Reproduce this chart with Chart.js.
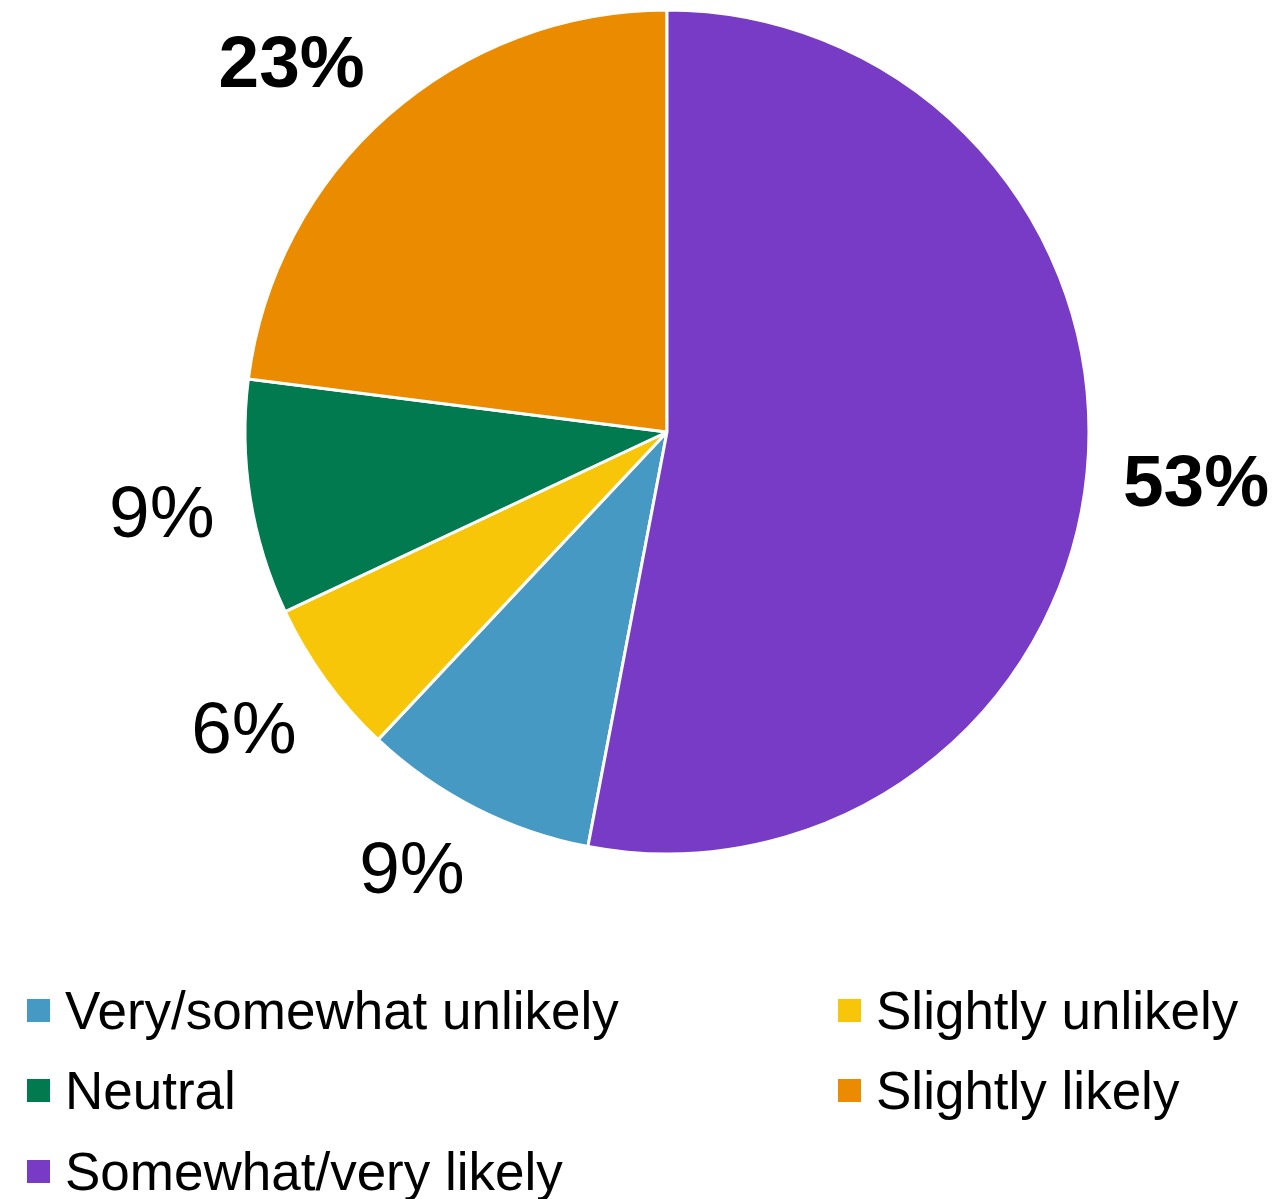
<!DOCTYPE html>
<html>
<head>
<meta charset="utf-8">
<script src="https://cdn.jsdelivr.net/npm/chart.js@4.4.0/dist/chart.umd.min.js"></script>
<style>
    html, body { margin: 0; padding: 0; background: #fff; }
    #wrap { position: relative; width: 1280px; height: 1199px; overflow: hidden; }
    #legend {
        position: absolute;
        left: 27px;
        top: 970px;
        display: grid;
        grid-template-columns: 811px auto;
        grid-auto-rows: 80.5px;
        font-family: "Liberation Sans", Arial, sans-serif;
        font-size: 53px;
        color: #000;
    }
    .legend-item { display: flex; align-items: center; white-space: nowrap; }
    .legend-box { width: 23px; height: 23px; margin-right: 15px; flex: none; }
</style>
</head>
<body>
<div id="wrap">
    <canvas id="pieChart" width="1280" height="1199"></canvas>
    <div id="legend"></div>
</div>
<script>
const labels = ["Very/somewhat unlikely", "Slightly unlikely", "Neutral", "Slightly likely", "Somewhat/very likely"];
const values = [9, 6, 9, 23, 53];
const colors = ["#4599C3", "#F7C608", "#007A4E", "#EB8C00", "#783BC5"];
const boldLabels = [false, false, false, true, true];

// last slice starts at 12 o'clock, so turn the pie by its share
const total = values.reduce((a, b) => a + b, 0);
const startRotation = (values[values.length - 1] / total) * 360;

const clamp = (v) => Math.max(-1, Math.min(1, v));

// percent labels just outside each slice, box corner pinned to the mid-angle
const pieLabels = {
    id: "pieLabels",
    afterDatasetsDraw(chart) {
        const ctx = chart.ctx;
        const meta = chart.getDatasetMeta(0);
        meta.data.forEach((arc, i) => {
            const { x, y, startAngle, endAngle, outerRadius } = arc.getProps(
                ["x", "y", "startAngle", "endAngle", "outerRadius"], true);
            const mid = (startAngle + endAngle) / 2;
            const text = values[i] + "%";
            ctx.save();
            ctx.font = (boldLabels[i] ? "bold " : "") + "73px 'Liberation Sans', Arial, sans-serif";
            ctx.fillStyle = "#000";
            ctx.textAlign = "left";
            ctx.textBaseline = "alphabetic";
            const m = ctx.measureText(text);
            const w = m.actualBoundingBoxLeft + m.actualBoundingBoxRight;
            const h = m.actualBoundingBoxAscent;
            const d = outerRadius + 38;
            const ax = x + Math.cos(mid) * d;
            const ay = y + Math.sin(mid) * d;
            const cx = ax + clamp(2 * Math.cos(mid)) * w / 2;
            const cy = ay + clamp(2 * Math.sin(mid)) * h / 2;
            ctx.fillText(text, cx - w / 2 + m.actualBoundingBoxLeft, cy + h / 2);
            ctx.restore();
        });
    },
};

const ctx = document.getElementById("pieChart").getContext("2d");
const myChart = new Chart(ctx, {
    type: "pie",
    data: {
        labels: labels,
        datasets: [
            {
                data: values,
                backgroundColor: colors,
                borderColor: "#ffffff",
                borderWidth: 3,
            },
        ],
    },
    options: {
        responsive: false,
        animation: false,
        devicePixelRatio: 1,
        rotation: startRotation,
        radius: 422,
        layout: {
            padding: { left: 100, right: 46, top: 0, bottom: 335 },
        },
        plugins: {
            legend: { display: false },
            tooltip: { enabled: false },
        },
    },
    plugins: [pieLabels],
});

// two-column legend under the pie
const legend = document.getElementById("legend");
labels.forEach((label, i) => {
    const item = document.createElement("div");
    item.className = "legend-item";
    item.innerHTML = `<span class="legend-box" style="background:${colors[i]}"></span><span>${label}</span>`;
    legend.appendChild(item);
});
</script>
</body>
</html>
